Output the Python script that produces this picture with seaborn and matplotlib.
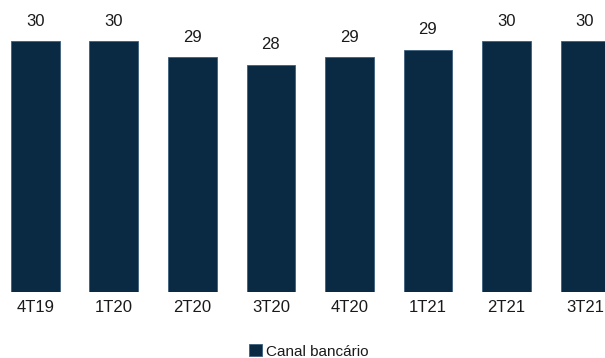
import pandas as pd
import matplotlib
matplotlib.use("Agg")
import matplotlib.pyplot as plt
import seaborn as sns

# Data (labels shown rounded, bar heights)
periodos = ["4T19", "1T20", "2T20", "3T20", "4T20", "1T21", "2T21", "3T21"]
valores = [30.0, 30.0, 28.7, 28.1, 28.7, 29.3, 30.0, 30.0]
serie = "Canal bancário"

df = pd.DataFrame({
    "periodo": periodos,
    "valor": valores,
    "canal": [serie] * len(periodos)
})

sns.set_style("white")
plt.rcParams["font.family"] = ["Liberation Sans", "DejaVu Sans"]

bar_color = "#002b4b"

fig = plt.figure(figsize=(6.05, 3.58), dpi=100)
ax = fig.add_axes([0, 66 / 358, 1, 292 / 358])

sns.barplot(
    data=df,
    x="periodo",
    y="valor",
    hue="canal",
    palette=[bar_color],
    width=0.62,
    edgecolor="#3d5f7d",
    linewidth=0.6,
    ax=ax
)

# Value labels
for container in ax.containers:
    ax.bar_label(
        container,
        labels=[f"{v:.0f}" for v in valores],
        padding=9,
        fontsize=12,
        color="#1a1a1a"
    )

ax.set_ylim(10, 33.27)
ax.set_xlim(-0.4495, 7.255)
ax.set_xlabel("")
ax.set_ylabel("")
ax.set_yticks([])
ax.tick_params(axis="x", length=0, pad=6, labelsize=12, labelcolor="#1a1a1a")
sns.despine(ax=ax, left=True, bottom=True)

# Legend at the bottom
handles, labels = ax.get_legend_handles_labels()
if ax.legend_ is not None:
    ax.legend_.remove()
fig.legend(
    handles,
    labels,
    loc="lower center",
    bbox_to_anchor=(0.51, -0.04),
    frameon=False,
    fontsize=11,
    handlelength=0.85,
    handleheight=0.85,
    handletextpad=0.3,
    labelcolor="#1a1a1a"
)

fig.savefig("out.png", dpi=100)
